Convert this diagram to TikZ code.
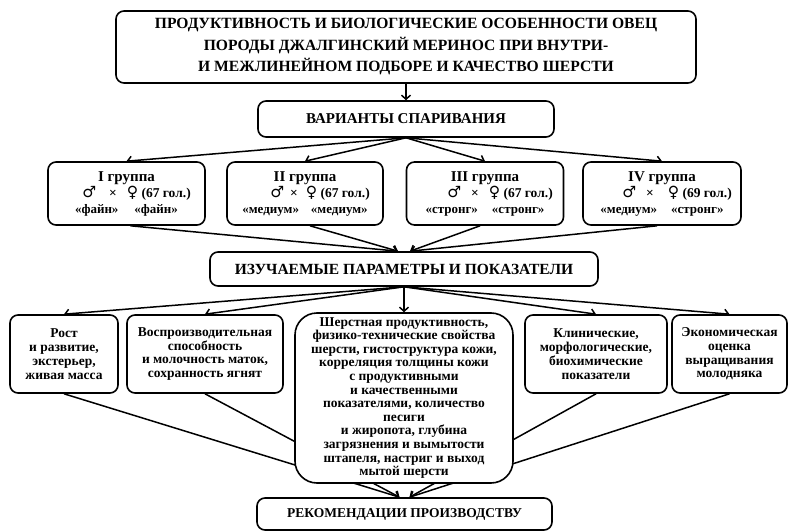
\documentclass[tikz,border=0pt]{standalone}
\usepackage{fontspec}
\setmainfont{Liberation Serif}
\newfontfamily\symf{DejaVu Sans}
\usetikzlibrary{arrows.meta,calc,backgrounds}
\newcommand{\msym}[1]{{\symf\mdseries\fontsize{15.5}{15}\selectfont #1}}
\begin{document}
\begin{tikzpicture}[x=1pt,y=-1pt,
  box/.style={draw, line width=1.6pt, rounded corners=8pt, fill=white, align=center, inner sep=1pt, font=\bfseries},
  arr/.style={line width=1.5pt, -{Straight Barb[length=4pt,width=9pt]}},
  grp/.style={box, minimum height=63pt, font=\bfseries\fontsize{15}{16}\selectfont},
  side/.style={box, minimum height=78pt, font=\bfseries\fontsize{13.5}{13.8}\selectfont}
  ]
\useasboundingbox (0,0) rectangle (790,532);

\node[box, minimum width=580pt, minimum height=72pt, font=\bfseries\fontsize{15.6}{21.5}\selectfont] (title) at (406,47)
  {ПРОДУКТИВНОСТЬ И БИОЛОГИЧЕСКИЕ ОСОБЕННОСТИ ОВЕЦ\\ПОРОДЫ ДЖАЛГИНСКИЙ МЕРИНОС ПРИ ВНУТРИ-\\И МЕЖЛИНЕЙНОМ ПОДБОРЕ И КАЧЕСТВО ШЕРСТИ};

\node[box, minimum width=296pt, minimum height=36pt, font=\bfseries\fontsize{15}{18}\selectfont] (var) at (406,119) {ВАРИАНТЫ СПАРИВАНИЯ};

\node[grp, minimum width=157pt] (g1) at (126.5,193.5)
  {I группа\\
   {\fontsize{13.5}{15}\selectfont\hspace*{20pt}\msym{♂}\hspace{13pt}×\hspace{10pt}\msym{♀} (67 гол.)}\\
   {\fontsize{13}{14}\selectfont «файн»\hspace{16pt}«файн»}};
\node[grp, minimum width=156pt] (g2) at (305,193.5)
  {II группа\\
   {\fontsize{13.5}{15}\selectfont\hspace*{30pt}\msym{♂}\hspace{6pt}×\hspace{8pt}\msym{♀} (67 гол.)}\\
   {\fontsize{13}{14}\selectfont «медиум»\hspace{12pt}«медиум»}};
\node[grp, minimum width=157pt] (g3) at (485,193.5)
  {III группа\\
   {\fontsize{13.5}{15}\selectfont\hspace*{30pt}\msym{♂}\hspace{10pt}×\hspace{10pt}\msym{♀} (67 гол.)}\\
   {\fontsize{13}{14}\selectfont «стронг»\hspace{14pt}«стронг»}};
\node[grp, minimum width=158pt] (g4) at (662,193.5)
  {IV группа\\
   {\fontsize{13.5}{15}\selectfont\hspace*{30pt}\msym{♂}\hspace{10pt}×\hspace{14pt}\msym{♀} (69 гол.)}\\
   {\fontsize{13}{14}\selectfont «медиум»\hspace{14pt}«стронг»}};

\node[box, minimum width=388pt, minimum height=34pt, font=\bfseries\fontsize{15.5}{18}\selectfont] (izu) at (404,269) {ИЗУЧАЕМЫЕ ПАРАМЕТРЫ И ПОКАЗАТЕЛИ};

\node[side, minimum width=108pt] (b1) at (64,354) {Рост\\и развитие,\\экстерьер,\\живая масса};
\node[side, minimum width=156pt] (b2) at (205,354) {Воспроизводительная\\способность\\и молочность маток,\\сохранность ягнят};
\node[box, minimum width=218pt, minimum height=170pt, rounded corners=22pt, font=\bfseries\fontsize{13.5}{13.6}\selectfont] (b3) at (404,398)
  {Шерстная продуктивность,\\физико-технические свойства\\шерсти, гистоструктура кожи,\\корреляция толщины кожи\\с продуктивными\\и качественными\\показателями, количество\\песиги\\и жиропота, глубина\\загрязнения и вымытости\\штапеля, настриг и выход\\мытой шерсти};
\node[side, minimum width=142pt] (b4) at (596,354) {Клинические,\\морфологические,\\биохимические\\показатели};
\node[side, minimum width=115pt] (b5) at (729.5,354) {Экономическая\\оценка\\выращивания\\молодняка};

\node[box, minimum width=295pt, minimum height=32pt, font=\bfseries\fontsize{13.5}{16}\selectfont] (rec) at (404.5,514) {РЕКОМЕНДАЦИИ ПРОИЗВОДСТВУ};

\begin{scope}[on background layer]
  \draw[arr] (var.north |- title.south) -- (var.north);
  \foreach \g in {g1,g2,g3,g4} \draw[arr] (var.south) -- (\g.north);
  \draw[arr] ($(g1.south)+(4,0)$) -- ($(izu.north)+(-6,0)$);
  \draw[arr] ($(g2.south)+(5,0)$) -- ($(izu.north)+(-6,0)$);
  \draw[arr] ($(g3.south)+(-5,0)$) -- ($(izu.north)+(6,0)$);
  \draw[arr] ($(g4.south)+(-5,0)$) -- ($(izu.north)+(6,0)$);
  \foreach \b in {b1,b2,b4,b5} \draw[arr] (izu.south) -- (\b.north);
  \draw[arr] (izu.south) -- (izu.south |- b3.north);
  \draw[arr] (b1.south) -- ($(rec.north)+(-5,0)$);
  \draw[arr] (b2.south) -- ($(rec.north)+(-5,0)$);
  \draw[arr] (b4.south) -- ($(rec.north)+(5,0)$);
  \draw[arr] (b5.south) -- ($(rec.north)+(5,0)$);
\end{scope}
\end{tikzpicture}
\end{document}
